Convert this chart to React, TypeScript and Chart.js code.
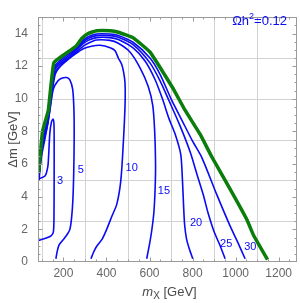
import React, { useEffect, useRef } from "react";
import { Chart, registerables } from "chart.js";
Chart.register(...registerables);

// Axis ranges and ticks
const X_MIN = 82;
const X_MAX = 1285;
const Y_MIN = 0;
const Y_MAX = 15;
const xLabelTicks = [200, 400, 600, 800, 1000, 1200];
const xGridLines = [100, 300, 500, 700, 900, 1100];
const yLabelTicks = [0, 2, 4, 6, 8, 10, 12, 14];
const yGridLines = [2.5, 5, 7.5, 10, 12.5];

// Relic density border Ωh² = 0.12 (mX [GeV], Δm [GeV])
const omegaCurve: [number, number][] = [
  [85, 5.5], [103, 8.0], [130, 9.3], [156, 12.22], [230, 12.95], [261, 13.26],
  [285, 13.7], [315, 14.0], [354, 14.17], [416, 14.17], [455, 14.08], [525, 13.73],
  [602, 12.87], [649, 11.92], [711, 10.6], [765, 9.3], [836, 7.8], [889, 6.45],
  [990, 4.1], [1052, 2.6], [1083, 1.64], [1148, 0.15],
];

// Contours
const curve3: [number, number][] = [
  [80, 5.07], [114, 5.26], [122, 5.5], [129, 6.0], [137, 7.9], [145, 8.6], [152, 8.75],
  [156, 8.5], [157, 7.5], [157, 5], [156, 2.5], [154, 1.9], [150, 1.72], [140, 1.58],
  [110, 1.42], [80, 1.3],
];
const curve5: [number, number][] = [
  [84, 5.15], [100, 6.6], [112, 7.4], [122, 8.1], [137, 9.26], [153, 10.59], [175, 11.1],
  [192, 11.26], [215, 11.3], [230, 11.16], [243, 10.59], [249, 9.26], [250, 7.5],
  [248, 5.5], [244, 3.8], [238, 2.7], [230, 2.0], [218, 1.7], [195, 1.3], [180, 1.05],
  [172, 0.7], [165, 0.2],
];
const curve10: [number, number][] = [
  [87, 5.0], [100, 6.9], [128, 8.5], [162, 11.5], [200, 12.2], [250, 12.7], [292, 13.07],
  [330, 13.22], [370, 13.28], [420, 13.12], [440, 12.95], [455, 12.5], [471, 12.1],
  [480, 11.6], [486, 11], [487, 10], [483, 8.5], [477, 7], [470, 5.5], [462, 4.5],
  [447, 3.5], [425, 2.8], [401, 2.0], [380, 1.4], [354, 0.95], [340, 0.6], [328, 0.2],
];
const curve15: [number, number][] = [
  [86, 5.1], [100, 7.1], [128, 8.7], [160, 11.6], [230, 12.5], [285, 13.15], [315, 13.4],
  [354, 13.6], [416, 13.58], [455, 13.4], [509, 12.87], [556, 11.9], [594, 10.76],
  [615, 9.6], [624, 8.0], [628, 6.0], [626, 4.5], [620, 3.0], [610, 1.9], [600, 1.1],
  [587, 0.2],
];
const curve20: [number, number][] = [
  [85, 5.2], [100, 7.3], [128, 8.9], [159, 11.75], [230, 12.6], [285, 13.3], [315, 13.58],
  [354, 13.75], [416, 13.75], [455, 13.63], [525, 13.1], [580, 12.3], [625, 11.2],
  [660, 10.0], [690, 8.8], [720, 7.8], [745, 6.6], [753, 5], [758, 3.5], [763, 2.3],
  [772, 1.4], [785, 0.8], [801, 0.2],
];
const curve25: [number, number][] = [
  [84, 5.3], [100, 7.5], [128, 9.0], [158, 11.85], [230, 12.7], [285, 13.4], [315, 13.7],
  [354, 13.87], [416, 13.87], [455, 13.77], [525, 13.3], [602, 12.2], [649, 11.1],
  [690, 9.9], [740, 8.4], [790, 6.7], [822, 5.3], [850, 4.1], [872, 3.0], [900, 1.85],
  [928, 1.0], [951, 0.2],
];
const curve30: [number, number][] = [
  [84, 5.4], [100, 7.6], [128, 9.1], [157, 11.95], [230, 12.8], [261, 13.1], [285, 13.5],
  [315, 13.8], [354, 13.97], [416, 13.97], [455, 13.88], [525, 13.45], [602, 12.5],
  [649, 11.5], [700, 10.0], [750, 8.7], [800, 7.4], [843, 6.4], [913, 4.11], [974, 2.21],
  [1010, 1.2], [1044, 0.2],
];

// Contour labels (data coordinates)
const contourLabels = ["3", "5", "10", "15", "20", "25", "30"];
const contourLabelX = [184, 281, 517, 667, 816, 956, 1068];
const contourLabelY = [4.97, 5.64, 5.79, 4.34, 2.4, 1.1, 0.91];

const BLUE = "#0a0af5";
const GREEN = "#0a7d0a";
const FONT = "'Liberation Sans', Arial, sans-serif";

const toPts = (c: [number, number][]) => c.map(([x, y]) => ({ x, y }));

const decorPlugin = {
  id: "decor",
  beforeDatasetsDraw(chart: any) {
    const { ctx, chartArea: a, scales } = chart;
    const xs = scales.x, ys = scales.y;
    ctx.save();
    ctx.strokeStyle = "#d2d2d2";
    ctx.lineWidth = 1;
    ctx.beginPath();
    xGridLines.forEach((v) => {
      const px = Math.round(xs.getPixelForValue(v)) + 0.5;
      ctx.moveTo(px, a.top);
      ctx.lineTo(px, a.bottom);
    });
    yGridLines.forEach((v) => {
      const py = Math.round(ys.getPixelForValue(v)) + 0.5;
      ctx.moveTo(a.left, py);
      ctx.lineTo(a.right, py);
    });
    ctx.stroke();
    ctx.restore();
  },
  afterDatasetsDraw(chart: any) {
    const { ctx, chartArea: a, scales } = chart;
    const xs = scales.x, ys = scales.y;
    ctx.save();
    // frame
    ctx.strokeStyle = "#9a9a9a";
    ctx.lineWidth = 1;
    const L = Math.round(a.left) + 0.5, R = Math.round(a.right) - 0.5;
    const T = Math.round(a.top) + 0.5, B = Math.round(a.bottom) - 0.5;
    ctx.strokeRect(L, T, R - L, B - T);
    // frame ticks
    ctx.beginPath();
    for (let v = 50; v <= X_MAX; v += 50) {
      if (v < X_MIN) continue;
      const len = v % 200 === 0 ? 4 : 2;
      const px = Math.round(xs.getPixelForValue(v)) + 0.5;
      ctx.moveTo(px, B); ctx.lineTo(px, B - len);
      ctx.moveTo(px, T); ctx.lineTo(px, T + len);
    }
    for (let v = 0.5; v < Y_MAX; v += 0.5) {
      const len = Math.abs(v % 2) < 1e-6 ? 4 : 2;
      const py = Math.round(ys.getPixelForValue(v)) + 0.5;
      ctx.moveTo(L, py); ctx.lineTo(L + len, py);
      ctx.moveTo(R, py); ctx.lineTo(R - len, py);
    }
    ctx.stroke();

    // contour labels
    ctx.fillStyle = BLUE;
    ctx.font = `11px ${FONT}`;
    ctx.textAlign = "center";
    ctx.textBaseline = "middle";
    contourLabels.forEach((t, i) => {
      ctx.fillText(t, xs.getPixelForValue(contourLabelX[i]), ys.getPixelForValue(contourLabelY[i]));
    });

    // Ωh²=0.12
    ctx.font = `13px ${FONT}`;
    ctx.textAlign = "left";
    ctx.textBaseline = "alphabetic";
    const p1 = "Ωh", p2 = "2", p3 = "=0.12";
    ctx.font = `13px ${FONT}`;
    const w1 = ctx.measureText(p1).width;
    const w3 = ctx.measureText(p3).width;
    ctx.font = `9px ${FONT}`;
    const w2 = ctx.measureText(p2).width;
    const total = w1 + w2 + w3;
    let sx = 287 - total;
    const by = 25;
    ctx.font = `13px ${FONT}`;
    ctx.fillText(p1, sx, by);
    ctx.font = `9px ${FONT}`;
    ctx.fillText(p2, sx + w1, by - 6);
    ctx.font = `13px ${FONT}`;
    ctx.fillText(p3, sx + w1 + w2, by);

    // axis titles
    ctx.fillStyle = "#4a4a4a";
    // y title
    ctx.save();
    ctx.translate(13, (a.top + a.bottom) / 2);
    ctx.rotate(-Math.PI / 2);
    ctx.font = `13px ${FONT}`;
    ctx.textAlign = "center";
    ctx.textBaseline = "middle";
    ctx.fillText("Δm [GeV]", 0, 0);
    ctx.restore();
    // x title: m_X [GeV]
    ctx.textBaseline = "alphabetic";
    ctx.textAlign = "left";
    ctx.font = `italic 13px ${FONT}`;
    const mW = ctx.measureText("m").width;
    ctx.font = `10px ${FONT}`;
    const xW = ctx.measureText("X").width;
    ctx.font = `13px ${FONT}`;
    const gW = ctx.measureText(" [GeV]").width;
    const tot = mW + xW + gW;
    let tx = (a.left + a.right) / 2 - tot / 2 + 2;
    const ty = 296;
    ctx.font = `italic 13px ${FONT}`;
    ctx.fillText("m", tx, ty);
    ctx.font = `10px ${FONT}`;
    ctx.fillText("X", tx + mW, ty + 3);
    ctx.font = `13px ${FONT}`;
    ctx.fillText(" [GeV]", tx + mW + xW, ty);
    ctx.restore();
  },
};

export default function App() {
  const ref = useRef<HTMLCanvasElement | null>(null);
  useEffect(() => {
    document.body.style.margin = "0";
    const canvas = ref.current;
    if (!canvas) return;
    const blueDs = (d: [number, number][]) => ({
      data: toPts(d),
      showLine: true,
      borderColor: BLUE,
      borderWidth: 1.6,
      pointRadius: 0,
      tension: 0.25,
      fill: false,
    });
    const chart = new Chart(canvas, {
      type: "scatter",
      data: {
        datasets: [
          {
            data: toPts(omegaCurve),
            showLine: true,
            borderColor: GREEN,
            borderWidth: 3.5,
            pointRadius: 0,
            tension: 0.1,
            fill: false,
          },
          blueDs(curve30),
          blueDs(curve25),
          blueDs(curve20),
          blueDs(curve15),
          blueDs(curve10),
          blueDs(curve5),
          blueDs(curve3),
        ],
      },
      options: {
        responsive: false,
        animation: false,
        devicePixelRatio: 1,
        layout: { padding: { top: 1, right: 3, left: 0, bottom: 0 } },
        plugins: { legend: { display: false }, tooltip: { enabled: false }, title: { display: false } },
        scales: {
          x: {
            type: "linear",
            min: X_MIN,
            max: X_MAX,
            afterBuildTicks: (s: any) => {
              s.ticks = xLabelTicks.map((v) => ({ value: v }));
            },
            afterFit: (s: any) => {
              s.height = 41;
            },
            ticks: {
              autoSkip: false,
              maxRotation: 0,
              padding: 4,
              color: "#666",
              font: { family: FONT, size: 12 },
              callback: (v: any) => String(v),
            },
            grid: { display: false, drawTicks: false },
            border: { display: false },
          },
          y: {
            type: "linear",
            min: Y_MIN,
            max: Y_MAX,
            afterBuildTicks: (s: any) => {
              s.ticks = yLabelTicks.map((v) => ({ value: v }));
            },
            afterFit: (s: any) => {
              s.width = 38;
            },
            ticks: {
              autoSkip: false,
              padding: 10,
              color: "#666",
              font: { family: FONT, size: 12 },
              callback: (v: any) => String(v),
            },
            grid: { display: false, drawTicks: false },
            border: { display: false },
          },
        },
      },
      plugins: [decorPlugin],
    });
    return () => chart.destroy();
  }, []);
  return (
    <div style={{ width: 300, height: 303 }}>
      <canvas ref={ref} width={300} height={303} style={{ display: "block" }} />
    </div>
  );
}
